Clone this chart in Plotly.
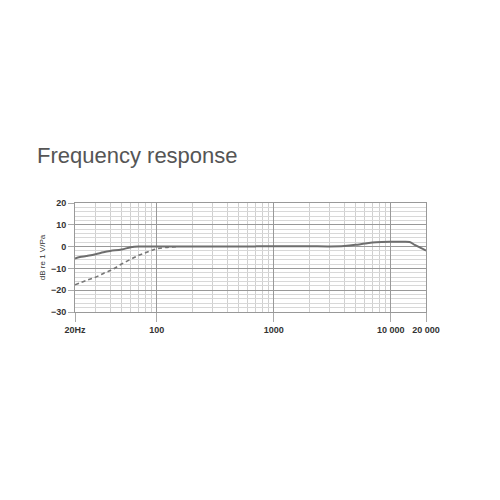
import plotly.graph_objects as go

freq_solid = [20, 22, 25, 30, 35, 40, 50, 60, 70, 100, 150, 200, 300, 500, 700, 1000, 1500, 2000, 3000, 4000, 5000, 6000, 7500, 10000, 12000, 14500, 16000, 18000, 20000]
db_solid = [-5.5, -4.8, -4.3, -3.5, -2.6, -2.0, -1.3, -0.3, 0.0, 0.0, 0.0, 0.0, 0.1, 0.0, 0.1, 0.2, 0.2, 0.2, 0.1, 0.3, 0.8, 1.4, 2.0, 2.2, 2.2, 2.1, 0.8, -0.6, -1.8]

freq_dashed = [20, 25, 30, 35, 40, 44, 50, 60, 70, 80, 90, 100, 120, 150]
db_dashed = [-17.5, -15.5, -14.0, -12.3, -11.0, -9.8, -8.0, -5.8, -4.0, -2.8, -1.8, -1.0, -0.4, 0.0]

x_tickvals = [20, 100, 1000, 10000, 20000]
x_ticktext = ["20Hz", "100", "1000", "10 000", "20 000"]
x_minor = [30, 40, 50, 60, 70, 80, 90, 200, 300, 400, 500, 600, 700, 800, 900,
           2000, 3000, 4000, 5000, 6000, 7000, 8000, 9000]
y_tickvals = [20, 10, 0, -10, -20, -30]

fig = go.Figure()
fig.add_trace(go.Scatter(x=freq_dashed, y=db_dashed, mode="lines",
                         line=dict(color="#777777", width=1.6, dash="4px,3px", shape="spline")))
fig.add_trace(go.Scatter(x=freq_solid, y=db_solid, mode="lines",
                         line=dict(color="#6e6e6e", width=2, shape="spline")))

axis_font = dict(family="Liberation Sans, Arial", size=9, color="#333333", weight="bold")
fig.update_layout(
    width=500, height=500,
    paper_bgcolor="white", plot_bgcolor="white",
    showlegend=False,
    margin=dict(l=67, r=82, t=195, b=196, autoexpand=False),
    title=dict(text="Frequency response", x=0.058, xanchor="left", y=0.706, yanchor="middle",
               font=dict(family="Liberation Sans, Arial", size=22, color="#555555")),
    xaxis=dict(type="log", range=[1.30103, 4.30103], tickmode="array",
               tickvals=x_tickvals, ticktext=x_ticktext,
               tickfont=axis_font, automargin=False,
               showgrid=True, gridcolor="#999999", gridwidth=1,
               ticks="outside", ticklen=9, tickcolor="#aaaaaa",
               showline=True, linecolor="#999999", mirror=True,
               minor=dict(tickmode="array", tickvals=x_minor, showgrid=True,
                          gridcolor="#d0d0d0", gridwidth=1),
               zeroline=False),
    yaxis=dict(range=[-30, 20], tickmode="array", tickvals=y_tickvals,
               tickfont=axis_font, automargin=False,
               showgrid=True, gridcolor="#999999", gridwidth=1,
               ticks="outside", ticklen=6, tickcolor="#aaaaaa",
               showline=True, linecolor="#999999", mirror=True,
               minor=dict(dtick=2, showgrid=True, gridcolor="#d8d8d8", gridwidth=1),
               zeroline=False,
               title=dict(text="dB re 1 V/Pa", standoff=4,
                          font=dict(family="Liberation Sans, Arial", size=8, color="#333333"))),
)
fig.write_html("out.html")
